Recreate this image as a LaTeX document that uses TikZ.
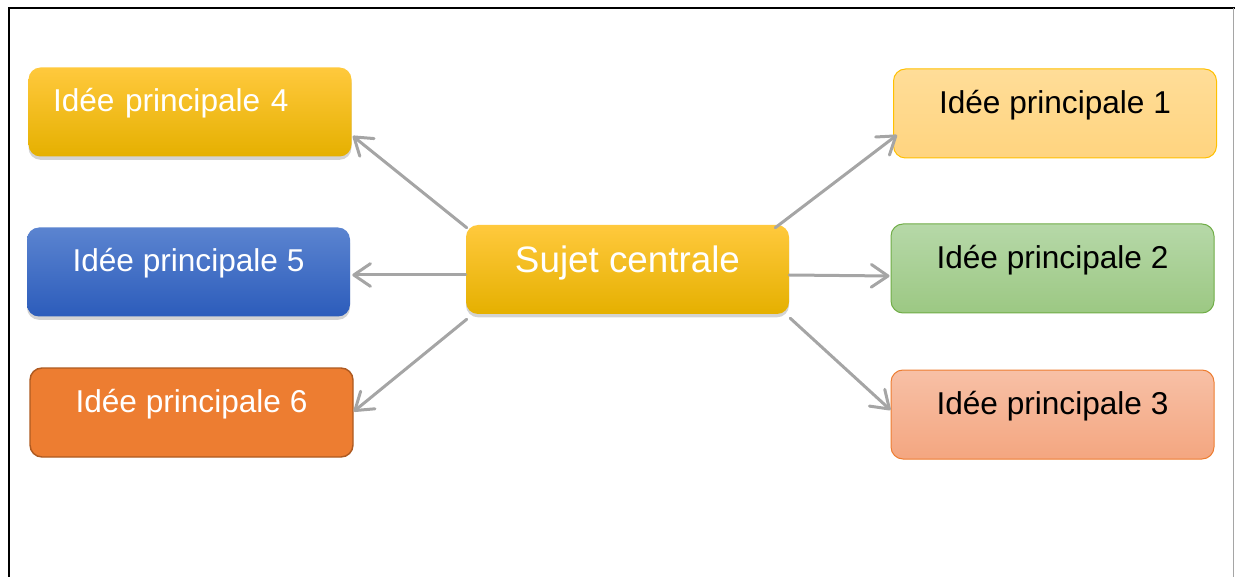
\documentclass[tikz,border=0pt]{standalone}
\usepackage{fontspec}
\setmainfont{Liberation Sans}
\usetikzlibrary{arrows.meta,shadows,calc}

\definecolor{linkgray}{RGB}{165,165,165}
\definecolor{goldtop}{RGB}{255,201,61}
\definecolor{goldmid}{RGB}{255,192,0}
\definecolor{goldbot}{RGB}{229,176,0}
\definecolor{bluetop}{RGB}{91,132,208}
\definecolor{bluebot}{RGB}{44,92,187}
\definecolor{orangefill}{RGB}{237,125,49}
\definecolor{orangeline}{RGB}{174,90,33}
\definecolor{paletop}{RGB}{255,221,152}
\definecolor{palebot}{RGB}{255,212,127}
\definecolor{paleline}{RGB}{255,192,0}
\definecolor{greentop}{RGB}{182,216,168}
\definecolor{greenbot}{RGB}{156,200,131}
\definecolor{greenline}{RGB}{112,173,71}
\definecolor{salmontop}{RGB}{247,192,166}
\definecolor{salmonbot}{RGB}{244,166,128}
\definecolor{salmonline}{RGB}{237,125,49}

\tikzset{
  ideabox/.style={rounded corners=9pt, minimum width=242.25pt, minimum height=66.75pt,
    inner sep=0pt, text height=0pt, text depth=0pt, font=\fontsize{23.7}{28}\selectfont},
  boxshadow/.style={drop shadow={shadow xshift=0pt, shadow yshift=-2.5pt, opacity=0.35}},
  link/.style={draw=linkgray, line width=2.25pt, line cap=round,
    -{Straight Barb[length=12.5pt, width=17pt, round]}},
}

\begin{document}
\begin{tikzpicture}[x=0.75pt,y=0.75pt,yscale=-1,xscale=1]
\useasboundingbox (0,0) rectangle (1235,577);
%Frame
\draw [line width=1.5pt] (8.5,577) -- (8.5,8) -- (1235,8) ;
\draw [color=linkgray, line width=0.75pt] (1233.5,8) -- (1233.5,577) ;

%Rounded Rect central
\node [ideabox, boxshadow, top color=goldtop, middle color=goldmid, bottom color=goldbot, text=white,
  text height=4.5pt, font=\fontsize{27.6}{32}\selectfont] (bc) at (627.5,269.5) {Sujet centrale};

%Rounded Rect right side
\node [ideabox, top color=paletop, bottom color=palebot, draw=paleline, line width=0.75pt] (b1) at (1055,113.5) {Idée principale 1};
\node [ideabox, top color=greentop, bottom color=greenbot, draw=greenline, line width=0.75pt] (b2) at (1052.5,268.5) {Idée principale 2};
\node [ideabox, top color=salmontop, bottom color=salmonbot, draw=salmonline, line width=0.75pt] (b3) at (1052.5,414.5) {Idée principale 3};

%Rounded Rect left side
\node [ideabox, boxshadow, top color=goldtop, middle color=goldmid, bottom color=goldbot, text=white,
  text width=205.5pt, align=left] (b4) at (190,112) {Idée principale 4};
\node [ideabox, boxshadow, top color=bluetop, bottom color=bluebot, text=white] (b5) at (188.5,272) {Idée principale 5};
\node [ideabox, fill=orangefill, draw=orangeline, line width=1.1pt, text=white] (b6) at (191.5,412.5) {Idée principale 6};

%Straight Lines
\draw [link] ($(bc.north east)+(-14,3)$) -- ($(b1.west)+(4,21.5)$) ;
\draw [link] ($(bc.east)+(0,5.5)$) -- ($(b2.west)+(-1,7.5)$) ;
\draw [link] ($(bc.south east)+(1,4)$) -- ($(b3.west)+(0,-4.5)$) ;
\draw [link] ($(bc.north west)+(1,3)$) -- ($(b4.east)+(1,24)$) ;
\draw [link] ($(bc.west)+(0,5.5)$) -- ($(b5.east)+(2,3)$) ;
\draw [link] ($(bc.south west)+(1,5)$) -- ($(b6.east)+(0,-1)$) ;
\end{tikzpicture}
\end{document}
